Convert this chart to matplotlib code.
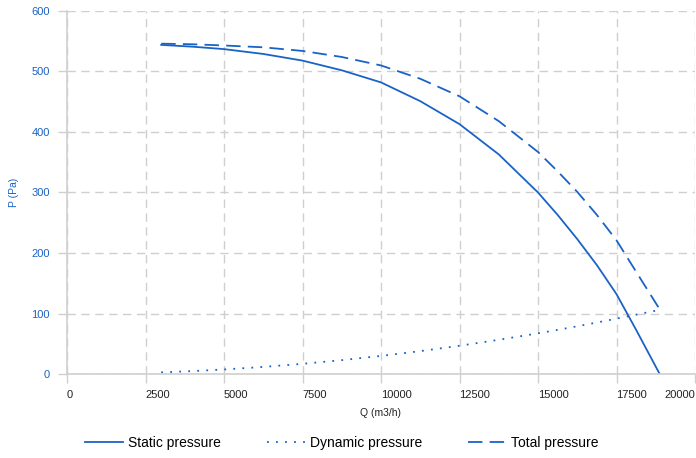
import matplotlib
matplotlib.use("Agg")
import matplotlib.pyplot as plt

plt.rcParams['font.family'] = ['Liberation Sans', 'DejaVu Sans']

# values
q = [3000, 4000, 5000, 6250, 7500, 8750, 10000, 11250, 12500, 13750,
     15000, 15625, 16250, 16875, 17500, 18125, 18875]
static_p = [544, 541, 537, 529, 518, 502, 482, 451, 413, 363,
            300, 263, 223, 180, 132, 73, 0]
dynamic_p = [2.7, 4.8, 7.5, 11.7, 16.8, 22.9, 29.9, 37.8, 46.7, 56.5,
             67.2, 72.9, 78.9, 85.1, 91.5, 98.1, 106]
total_p = [546, 545, 543, 540, 534, 524, 510, 488, 459, 418,
           367, 335, 301, 263, 221, 169, 107]

x_ticks = [0, 2500, 5000, 7500, 10000, 12500, 15000, 17500, 20000]
y_ticks = [0, 100, 200, 300, 400, 500, 600]

blue = '#1a63c6'
grid_c = '#cfcfcf'

fig = plt.figure(figsize=(6.96, 4.58), dpi=100)
ax = fig.add_axes([67 / 696, 84 / 458, 628 / 696, 363 / 458])

l1, = ax.plot(q, static_p, color=blue, lw=1.3, label='Static pressure')
l2, = ax.plot(q, dynamic_p, color=blue, lw=1.3, ls=(0, (1, 4)), label='Dynamic pressure')
l3, = ax.plot(q, total_p, color=blue, lw=1.3, ls=(0, (8, 4)), label='Total pressure')

ax.set_xlim(0, 20000)
ax.set_ylim(0, 600)
ax.set_xticks(x_ticks)
ax.set_yticks(y_ticks)
ax.set_xticklabels([str(v) for v in x_ticks], fontsize=8, color='#222222')
ax.set_yticklabels([str(v) for v in y_ticks], fontsize=8, color=blue)
# labels sit to the right of their tick, the last one is pulled back inside
for i, lab in enumerate(ax.get_xticklabels()):
    lab.set_ha('right' if i == len(x_ticks) - 1 else 'left')

ax.grid(True, color=grid_c, ls=(0, (6, 4)), lw=1)
ax.set_axisbelow(True)
for s in ['top', 'right']:
    ax.spines[s].set_visible(False)
for s in ['left', 'bottom']:
    ax.spines[s].set_color(grid_c)
    ax.spines[s].set_linewidth(1.2)
ax.tick_params(axis='both', length=6.5, width=1, color=grid_c, pad=5)
ax.tick_params(axis='y', pad=6)

ax.set_xlabel('Q (m3/h)', fontsize=7.5, color='#222222', labelpad=6)
ax.set_ylabel('P (Pa)', fontsize=7.5, color=blue)
ax.yaxis.set_label_coords(-0.077, 0.5)

fig.legend(handles=[l1, l2, l3], loc='center', bbox_to_anchor=(342 / 696, 1 - 443 / 458),
           ncol=3, frameon=False, fontsize=10, handlelength=2.7, handletextpad=0.4,
           columnspacing=3.3)

fig.savefig('out.png', dpi=100)
